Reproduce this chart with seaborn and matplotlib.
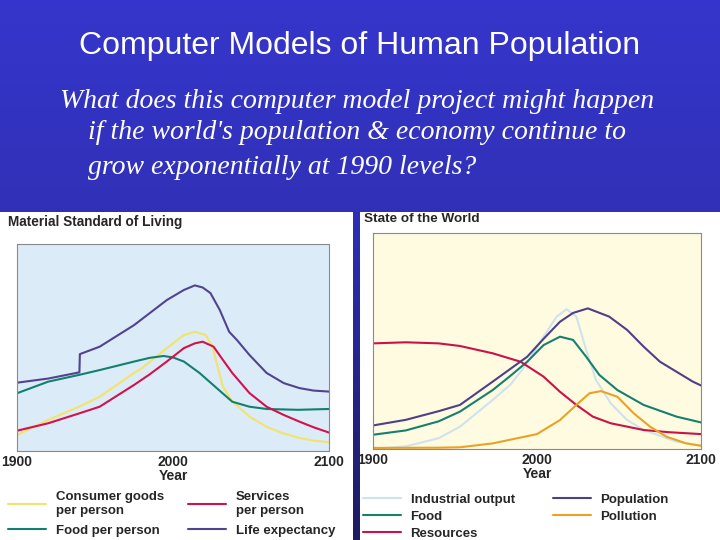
import matplotlib
matplotlib.use("Agg")
import matplotlib.pyplot as plt
import numpy as np
import pandas as pd
import seaborn as sns

# --- Material Standard of Living (relative units, 0 = bottom, 1 = top)
cg_years = [1900, 1920, 1940, 1953, 1975, 1980, 1990, 1996, 2007, 2014, 2021, 2025, 2028, 2032, 2038, 2049, 2060, 2070, 2081, 2090, 2100]
cg_vals = [0.077, 0.15, 0.215, 0.262, 0.377, 0.40, 0.46, 0.497, 0.56, 0.576, 0.56, 0.51, 0.425, 0.311, 0.24, 0.166, 0.117, 0.087, 0.063, 0.05, 0.042]

sv_years = [1900, 1920, 1940, 1953, 1975, 1985, 1996, 2007, 2014, 2019, 2026, 2032, 2038, 2049, 2060, 2071, 2081, 2090, 2100]
sv_vals = [0.098, 0.134, 0.182, 0.214, 0.319, 0.37, 0.432, 0.497, 0.52, 0.528, 0.504, 0.44, 0.377, 0.28, 0.214, 0.174, 0.142, 0.115, 0.089]

fp_years = [1900, 1920, 1940, 1953, 1975, 1985, 1994, 2000, 2007, 2017, 2028, 2038, 2049, 2060, 2080, 2100]
fp_vals = [0.279, 0.335, 0.368, 0.391, 0.432, 0.45, 0.459, 0.452, 0.432, 0.377, 0.304, 0.238, 0.214, 0.203, 0.199, 0.203]

le_years = [1900, 1920, 1940, 1940.3, 1953, 1975, 1996, 2007, 2014, 2019, 2024, 2030, 2036, 2041, 2049, 2060, 2071, 2081, 2090, 2100]
le_vals = [0.33, 0.35, 0.38, 0.468, 0.504, 0.608, 0.729, 0.778, 0.80, 0.79, 0.763, 0.681, 0.576, 0.536, 0.464, 0.377, 0.328, 0.304, 0.292, 0.287]

# --- State of the World
io_years = [1900, 1920, 1940, 1953, 1973, 1984, 1994, 2004, 2012, 2018, 2024, 2030, 2036, 2045, 2055, 2065, 2085, 2100]
io_vals = [0.0, 0.012, 0.05, 0.103, 0.227, 0.30, 0.397, 0.52, 0.613, 0.647, 0.613, 0.458, 0.319, 0.211, 0.134, 0.088, 0.034, 0.015]

fd_years = [1900, 1920, 1940, 1953, 1973, 1984, 1994, 2004, 2014, 2022, 2030, 2038, 2049, 2065, 2085, 2100]
fd_vals = [0.066, 0.086, 0.128, 0.173, 0.273, 0.34, 0.404, 0.481, 0.52, 0.505, 0.427, 0.343, 0.273, 0.204, 0.15, 0.123]

rs_years = [1900, 1920, 1940, 1953, 1973, 1990, 2004, 2014, 2024, 2034, 2045, 2065, 2080, 2100]
rs_vals = [0.489, 0.494, 0.489, 0.477, 0.443, 0.404, 0.335, 0.265, 0.204, 0.15, 0.119, 0.088, 0.078, 0.069]

pop_years = [1900, 1920, 1940, 1953, 1973, 1994, 2004, 2014, 2022, 2031, 2044, 2055, 2065, 2075, 2085, 2095, 2100]
pop_vals = [0.109, 0.135, 0.175, 0.204, 0.312, 0.427, 0.51, 0.589, 0.63, 0.651, 0.613, 0.551, 0.474, 0.404, 0.358, 0.312, 0.294]

pl_years = [1900, 1940, 1953, 1973, 2000, 2014, 2024, 2032, 2039, 2049, 2059, 2069, 2079, 2091, 2100]
pl_vals = [0.005, 0.006, 0.008, 0.026, 0.069, 0.134, 0.204, 0.258, 0.268, 0.242, 0.165, 0.103, 0.057, 0.026, 0.015]

left_series = [
    ("Consumer goods\nper person", cg_years, cg_vals, "#f2e46a"),
    ("Food per person", fp_years, fp_vals, "#12806e"),
    ("Services\nper person", sv_years, sv_vals, "#d2124c"),
    ("Life expectancy", le_years, le_vals, "#52438f"),
]
right_series = [
    ("Industrial output", io_years, io_vals, "#cfe3ec"),
    ("Food", fd_years, fd_vals, "#15806f"),
    ("Resources", rs_years, rs_vals, "#cc1148"),
    ("Population", pop_years, pop_vals, "#4e4088"),
    ("Pollution", pl_years, pl_vals, "#e9a225"),
]


def long_frame(series):
    rows = []
    for name, years, vals, _ in series:
        for y, v in zip(years, vals):
            rows.append({"year": y, "value": v, "series": name})
    return pd.DataFrame(rows)


def draw_panel(ax, series, bg):
    df = long_frame(series)
    palette = {name: c for name, _, _, c in series}
    sns.lineplot(data=df, x="year", y="value", hue="series", hue_order=[s[0] for s in series],
                 palette=palette, estimator=None, sort=True, linewidth=1.5, ax=ax)
    ax.set_facecolor(bg)
    ax.set_xlim(1900, 2100)
    ax.set_ylim(0, 1)
    ax.set_yticks([])
    ax.set_xticks([1900, 2000, 2100])
    ax.tick_params(axis="x", direction="in", length=5, color="#999999", width=0.8,
                   pad=3, labelsize=10)
    for lab in ax.get_xticklabels():
        lab.set_fontweight("bold")
    ax.set_ylabel("")
    ax.set_xlabel("Year", fontsize=10, fontweight="bold", labelpad=0)
    for sp in ax.spines.values():
        sp.set_visible(True)
        sp.set_color("#8a8a8a")
        sp.set_linewidth(0.8)


sns.set_theme(style="white")
plt.rcParams["font.family"] = ["Liberation Sans", "DejaVu Sans"]

fig = plt.figure(figsize=(7.2, 5.4), dpi=100)
fig.patch.set_facecolor("white")

# blue header with soft vertical gradient
bg_ax = fig.add_axes([0, 1 - 212 / 540, 1, 212 / 540])
grad = np.linspace(0, 1, 100)[:, None, None]
top = np.array([0.21, 0.21, 0.80])
bot = np.array([0.19, 0.19, 0.72])
bg_ax.imshow(top + (bot - top) * grad, aspect="auto", extent=[0, 1, 0, 1])
bg_ax.axis("off")

# dark separator strip between the two panels
sep_ax = fig.add_axes([353 / 720, 0, 7 / 720, 1 - 212 / 540])
stop = np.array([0.18, 0.18, 0.72])
sbot = np.array([0.11, 0.11, 0.38])
sep_ax.imshow(stop + (sbot - stop) * grad, aspect="auto", extent=[0, 1, 0, 1])
sep_ax.axis("off")

fig.text(0.5, 1 - 46 / 540, "Computer Models of Human Population", color="white",
         fontsize=23, ha="center", va="center")
sub_font = ["Liberation Serif", "DejaVu Serif"]
fig.text(60 / 720, 1 - 101 / 540, "What does this computer model project might happen",
         color="white", fontsize=20, style="italic", family=sub_font, ha="left", va="center")
fig.text(88 / 720, 1 - 133 / 540, "if the world's population & economy continue to",
         color="white", fontsize=20, style="italic", family=sub_font, ha="left", va="center")
fig.text(88 / 720, 1 - 168 / 540, "grow exponentially at 1990 levels?",
         color="white", fontsize=20, style="italic", family=sub_font, ha="left", va="center")

ax1 = fig.add_axes([17 / 720, 1 - 451 / 540, 312 / 720, 207 / 540])
draw_panel(ax1, left_series, "#dcebf8")
fig.text(8 / 720, 1 - 222 / 540, "Material Standard of Living", fontsize=9.8,
         fontweight="bold", ha="left", va="center")
ax1.legend(loc="upper left", bbox_to_anchor=(-9 / 312, -0.195), ncol=2, frameon=False,
           handlelength=2.9, handletextpad=0.7, columnspacing=1.85, labelspacing=0.55,
           prop={"size": 9.5, "weight": "bold"}, borderaxespad=0, borderpad=0)

ax2 = fig.add_axes([373 / 720, 1 - 449 / 540, 328 / 720, 216 / 540])
draw_panel(ax2, right_series, "#fffbe1")
fig.text(364 / 720, 1 - 219 / 540, "State of the World", fontsize=9.7,
         fontweight="bold", ha="left", va="center")
ax2.legend(loc="upper left", bbox_to_anchor=(-10 / 328, -0.205), ncol=2, frameon=False,
           handlelength=2.9, handletextpad=0.7, columnspacing=2.9, labelspacing=0.38,
           prop={"size": 9.5, "weight": "bold"}, borderaxespad=0, borderpad=0)

fig.savefig("out.png", dpi=100, facecolor="white")
